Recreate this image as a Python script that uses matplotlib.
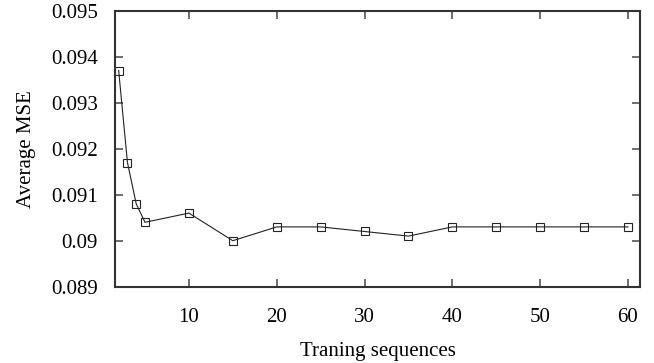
import numpy as np
import matplotlib.pyplot as plt

# training sequences vs average MSE
seqs = [2, 3, 4, 5, 10, 15, 20, 25, 30, 35, 40, 45, 50, 55, 60]
mse = [0.0937, 0.0917, 0.0908, 0.0904, 0.0906, 0.0900, 0.0903, 0.0903,
       0.0902, 0.0901, 0.0903, 0.0903, 0.0903, 0.0903, 0.0903]
xticks = [10, 20, 30, 40, 50, 60]
yticks = [0.089, 0.09, 0.091, 0.092, 0.093, 0.094, 0.095]
ylabels = ['0.089', '0.09', '0.091', '0.092', '0.093', '0.094', '0.095']

plt.rcParams['font.family'] = ['Liberation Serif', 'DejaVu Serif']
plt.rcParams['font.size'] = 15

fig = plt.figure(figsize=(6.54, 3.63), dpi=100)
ax = fig.add_axes([0.1754, 0.2102, 0.9790 - 0.1754, 0.9705 - 0.2102])

ax.plot(seqs, mse, color='#222222', lw=0.8, marker='s', markersize=6,
        markerfacecolor='none', markeredgecolor='#222222', markeredgewidth=0.8)

ax.set_xlim(1.55, 61.4)
ax.set_ylim(0.089, 0.095)
ax.set_xticks(xticks)
ax.set_yticks(yticks)
ax.set_yticklabels(ylabels)
ax.tick_params(direction='in', length=5.5, width=1.2, color='#555555',
               top=True, right=True)
ax.tick_params(axis='x', pad=15)
ax.tick_params(axis='y', pad=12)
for s in ax.spines.values():
    s.set_linewidth(1.5)
    s.set_color('#333333')

ax.set_xlabel('Traning sequences', labelpad=11)
ax.set_ylabel('Average MSE', labelpad=11)

fig.savefig('out.png', dpi=100)
